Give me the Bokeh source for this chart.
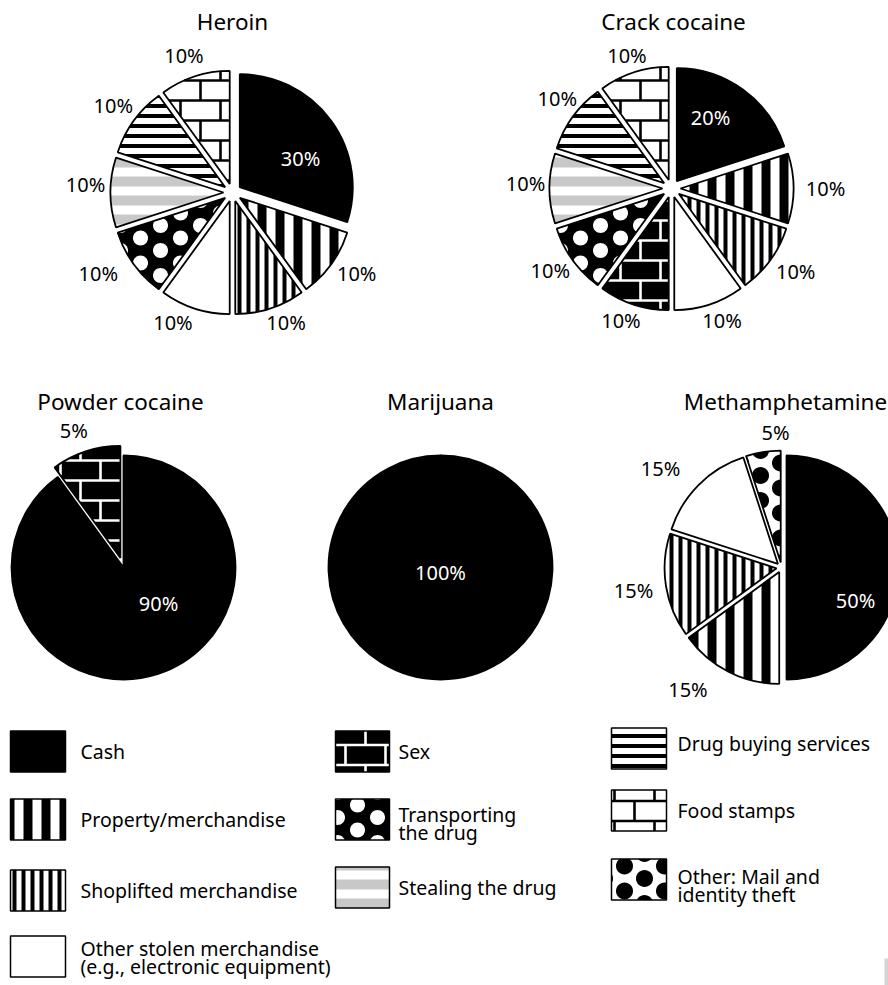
import math
from bokeh.plotting import figure
from bokeh.models import Range1d, ColumnDataSource
from bokeh.core.properties import value
from bokeh.embed import file_html
from bokeh.resources import INLINE

W, H = 888, 985
FONT = "Noto Sans"

# ---------------- data ----------------
CASH = "Cash"
PROP = "Property/merchandise"
SHOP = "Shoplifted merchandise"
OTHER = "Other stolen merchandise"
SEX = "Sex"
TRANS = "Transporting the drug"
STEAL = "Stealing the drug"
BUY = "Drug buying services"
FOOD = "Food stamps"
MAIL = "Other: Mail and identity theft"

pie_titles = ["Heroin", "Crack cocaine", "Powder cocaine", "Marijuana", "Methamphetamine"]

heroin_cats = [CASH, PROP, SHOP, OTHER, TRANS, STEAL, BUY, FOOD]
heroin_vals = [30, 10, 10, 10, 10, 10, 10, 10]
heroin_labels = ["30%", "10%", "10%", "10%", "10%", "10%", "10%", "10%"]

crack_cats = [CASH, PROP, SHOP, OTHER, SEX, TRANS, STEAL, BUY, FOOD]
crack_vals = [20, 10, 10, 10, 10, 10, 10, 10, 10]
crack_labels = ["20%", "10%", "10%", "10%", "10%", "10%", "10%", "10%", "10%"]

powder_cats = [CASH, SEX]
powder_vals = [90, 10]
powder_labels = ["90%", "5%"]

marijuana_cats = [CASH]
marijuana_vals = [100]
marijuana_labels = ["100%"]

meth_cats = [CASH, PROP, SHOP, OTHER, MAIL]
meth_vals = [50, 15, 15, 15, 5]
meth_labels = ["50%", "15%", "15%", "15%", "5%"]

legend_cats = [CASH, PROP, SHOP, OTHER, SEX, TRANS, STEAL, BUY, FOOD, MAIL]
legend_texts = ["Cash", "Property/merchandise", "Shoplifted merchandise",
                "Other stolen merchandise\n(e.g., electronic equipment)",
                "Sex", "Transporting\nthe drug", "Stealing the drug",
                "Drug buying services", "Food stamps", "Other: Mail and\nidentity theft"]

pies = [
    (heroin_cats, heroin_vals, heroin_labels),
    (crack_cats, crack_vals, crack_labels),
    (powder_cats, powder_vals, powder_labels),
    (marijuana_cats, marijuana_vals, marijuana_labels),
    (meth_cats, meth_vals, meth_labels),
]

# ---------------- layout (pixel space, y down) ----------------
pie_layout = [
    dict(cx=232, cy=192, r=113, d=9, inner=(68, -34), tx=232, ty=21),
    dict(cx=671, cy=188, r=113, d=9, inner=(39, -71), tx=673, ty=21),
    dict(cx=123, cy=567, r=112, d=0, inner=(35, 36), tx=120, ty=401),
    dict(cx=440, cy=567, r=112, d=0, inner=(0, 5), tx=440, ty=401),
    dict(cx=781, cy=567, r=112, d=5, inner=(74, 33), tx=785, ty=401),
]
explode_extra = {(2, 1): 10}
label_nudge = {
    (0, 1): (0, -9), (0, 2): (9, -7), (0, 3): (-15, -7), (0, 4): (-10, -9),
    (0, 5): (7, -8), (0, 6): (5, 3), (0, 7): (-4, 0),
    (1, 2): (0, -7), (1, 3): (6, -5), (1, 4): (-6, -5), (1, 5): (3, -8),
    (1, 6): (8, -5), (1, 7): (10, 0), (1, 8): (0, 4),
    (2, 1): (-6, -2),
    (4, 1): (-29, -5), (4, 3): (-17, 5), (4, 4): (15, -2),
}

legend_cols = [(10, 65), (335, 389), (611, 666)]
legend_text_x = [80, 398, 677]
legend_rows = [[751, 819, 890, 956], [751, 819, 887], [748, 810, 879]]
legend_text_dy = [[0, 0, 0, 1], [0, 4, 0], [-5, 0, 6]]
legend_col_of = [0, 0, 0, 0, 1, 1, 1, 2, 2, 2]
legend_row_of = [0, 1, 2, 3, 0, 1, 2, 0, 1, 2]
SW_H = 41


# ---------------- geometry helpers (pixel coords) ----------------
def poly_area(poly):
    a = 0.0
    n = len(poly)
    for i in range(n):
        x1, y1 = poly[i]
        x2, y2 = poly[(i + 1) % n]
        a += x1 * y2 - x2 * y1
    return a / 2


def clip_segment(p0, p1, poly):
    s = 1.0 if poly_area(poly) > 0 else -1.0
    t0, t1 = 0.0, 1.0
    dx, dy = p1[0] - p0[0], p1[1] - p0[1]
    n = len(poly)
    for i in range(n):
        ax, ay = poly[i]
        bx, by = poly[(i + 1) % n]
        ex, ey = bx - ax, by - ay
        if abs(ex) < 1e-12 and abs(ey) < 1e-12:
            continue
        num = s * (ex * (p0[1] - ay) - ey * (p0[0] - ax))
        den = s * (ex * dy - ey * dx)
        if abs(den) < 1e-12:
            if num < 0:
                return None
            continue
        t = -num / den
        if den > 0:
            t0 = max(t0, t)
        else:
            t1 = min(t1, t)
        if t0 >= t1:
            return None
    return (p0[0] + t0 * dx, p0[1] + t0 * dy), (p0[0] + t1 * dx, p0[1] + t1 * dy)


def clip_poly(subject, clip):
    s = 1.0 if poly_area(clip) > 0 else -1.0
    out = list(subject)
    n = len(clip)
    for i in range(n):
        a = clip[i]
        b = clip[(i + 1) % n]
        ex, ey = b[0] - a[0], b[1] - a[1]
        if abs(ex) < 1e-12 and abs(ey) < 1e-12:
            continue
        inp = out
        out = []
        if not inp:
            break

        def side(pt):
            return s * (ex * (pt[1] - a[1]) - ey * (pt[0] - a[0]))

        prev = inp[-1]
        sp = side(prev)
        for cur in inp:
            sc = side(cur)
            if sc >= 0:
                if sp < 0:
                    t = sp / (sp - sc)
                    out.append((prev[0] + t * (cur[0] - prev[0]), prev[1] + t * (cur[1] - prev[1])))
                out.append(cur)
            elif sp >= 0:
                t = sp / (sp - sc)
                out.append((prev[0] + t * (cur[0] - prev[0]), prev[1] + t * (cur[1] - prev[1])))
            prev, sp = cur, sc
    return out


def wedge_poly(cx, cy, r, th1, th2):
    n = max(8, int((th2 - th1) / (2 * math.pi) * 120))
    pts = [(cx, cy)]
    for k in range(n + 1):
        a = th1 + (th2 - th1) * k / n
        pts.append((cx + r * math.sin(a), cy - r * math.cos(a)))
    return pts


def bbox(poly):
    xs = [q[0] for q in poly]
    ys = [q[1] for q in poly]
    return min(xs), max(xs), min(ys), max(ys)


def brick_segments(poly, ox, oy, bw=40.0, bh=20.0):
    x0, x1, y0, y1 = bbox(poly)
    segs = []
    k0 = int(math.floor((y0 - oy) / bh)) - 1
    k1 = int(math.ceil((y1 - oy) / bh)) + 1
    for k in range(k0, k1 + 1):
        y = oy + bh * k
        c = clip_segment((x0 - 2, y), (x1 + 2, y), poly)
        if c:
            segs.append(c)
        shift = bw / 2 if k % 2 else 0.0
        m0 = int(math.floor((x0 - ox - shift) / bw)) - 1
        m1 = int(math.ceil((x1 - ox - shift) / bw)) + 1
        for m in range(m0, m1 + 1):
            x = ox + shift + bw * m
            c = clip_segment((x, y), (x, y + bh), poly)
            if c:
                segs.append(c)
    return segs


def dot_patches(poly, ox, oy, rad, tw=40.0, th=25.0):
    x0, x1, y0, y1 = bbox(poly)
    out = []
    centers = []
    j0 = int(math.floor((y0 - oy) / th)) - 1
    j1 = int(math.ceil((y1 - oy) / th)) + 1
    i0 = int(math.floor((x0 - ox) / tw)) - 1
    i1 = int(math.ceil((x1 - ox) / tw)) + 1
    for j in range(j0, j1 + 1):
        for i in range(i0, i1 + 1):
            centers.append((ox + tw * i, oy + th * j))
            centers.append((ox + tw * i + tw / 2, oy + th * j + th / 2))
    for (cx, cy) in centers:
        if cx + rad < x0 or cx - rad > x1 or cy + rad < y0 or cy - rad > y1:
            continue
        circ = [(cx + rad * math.cos(2 * math.pi * k / 32), cy + rad * math.sin(2 * math.pi * k / 32))
                for k in range(32)]
        cl = clip_poly(circ, poly)
        if len(cl) >= 3:
            out.append(cl)
    return out


# ---------------- styles ----------------
def fill_style(cat):
    if cat in (CASH, SEX, TRANS):
        return dict(fill_color="black")
    if cat == PROP:
        return dict(fill_color="white", hatch_pattern="vertical_line", hatch_color="black",
                    hatch_scale=18, hatch_weight=9)
    if cat == SHOP:
        return dict(fill_color="white", hatch_pattern="vertical_line", hatch_color="black",
                    hatch_scale=9, hatch_weight=4)
    if cat == STEAL:
        return dict(fill_color="white", hatch_pattern="horizontal_line", hatch_color="#c8c8c8",
                    hatch_scale=19, hatch_weight=10)
    if cat == BUY:
        return dict(fill_color="white", hatch_pattern="horizontal_line", hatch_color="black",
                    hatch_scale=10, hatch_weight=4)
    return dict(fill_color="white")


# manual textures: category -> (kind, colour)
manual = {SEX: ("brick", "white"), FOOD: ("brick", "black"),
          TRANS: ("dots", "white"), MAIL: ("dots", "black")}

p = figure(width=W, height=H, x_range=Range1d(0, W), y_range=Range1d(0, H),
           min_border=0, toolbar_location=None, output_backend="svg",
           x_axis_location=None, y_axis_location=None)
p.outline_line_color = None
p.grid.visible = False
p.background_fill_color = "white"
p.border_fill_color = "white"

seg_store = {"white": dict(xs=[], ys=[]), "black": dict(xs=[], ys=[])}
dot_store = {"white": dict(xs=[], ys=[]), "black": dict(xs=[], ys=[])}


def add_texture(cat, poly, ox, oy):
    if cat not in manual:
        return
    kind, col = manual[cat]
    if kind == "brick":
        for (a, b) in brick_segments(poly, ox, oy):
            seg_store[col]["xs"].append([a[0], b[0]])
            seg_store[col]["ys"].append([H - a[1], H - b[1]])
    else:
        rad = 7.5 if cat == TRANS else 8.5
        for pl in dot_patches(poly, ox, oy, rad):
            dot_store[col]["xs"].append([q[0] for q in pl])
            dot_store[col]["ys"].append([H - q[1] for q in pl])


# ---------------- build slices ----------------
slices = {c: dict(x=[], y=[], r=[], s=[], e=[]) for c in legend_cats}
lab = dict(x=[], y=[], text=[], color=[])
for pi, ((cats, vals, labels), L) in enumerate(zip(pies, pie_layout)):
    total = float(sum(vals))
    acc = 0.0
    for si, (c, v, t) in enumerate(zip(cats, vals, labels)):
        th1 = acc / total * 2 * math.pi
        acc += v
        th2 = acc / total * 2 * math.pi
        if th2 - th1 > 2 * math.pi - 1e-3:
            th2 = th1 + 2 * math.pi - 1e-3
        mid = (th1 + th2) / 2
        d = explode_extra.get((pi, si), L["d"])
        ux, uy = math.sin(mid), math.cos(mid)  # uy points up
        pcx = L["cx"] + d * ux
        pcy = L["cy"] - d * uy  # pixel y
        sl = slices[c]
        sl["x"].append(pcx)
        sl["y"].append(H - pcy)
        sl["r"].append(L["r"])
        sl["s"].append(math.pi / 2 - th2)
        sl["e"].append(math.pi / 2 - th1)
        add_texture(c, wedge_poly(pcx, pcy, L["r"], th1, th2), 0.0, 0.0)
        nx, ny = label_nudge.get((pi, si), (0, 0))
        if c == CASH:
            lab["x"].append(L["cx"] + L["inner"][0])
            lab["y"].append(H - (L["cy"] + L["inner"][1]))
            lab["color"].append("white")
        else:
            half_w = 8.0 * len(t)
            ext = abs(ux) * half_w + abs(uy) * 7
            R = L["r"] + d + 8 + ext
            lab["x"].append(L["cx"] + R * ux + nx)
            lab["y"].append(H - (L["cy"] - R * uy + ny))
            lab["color"].append("black")
        lab["text"].append(t)

# fills
for c in legend_cats:
    sl = slices[c]
    if not sl["x"]:
        continue
    p.wedge(x="x", y="y", radius="r", start_angle="s", end_angle="e", direction="anticlock",
            source=ColumnDataSource(sl), line_color=None, **fill_style(c))

# ---------------- legend swatches ----------------
lt = dict(x=[], y=[], text=[])
leg_rects = dict(x=[], y=[], w=[], h=[])
for i, c in enumerate(legend_cats):
    col = legend_col_of[i]
    row = legend_row_of[i]
    x0, x1 = legend_cols[col]
    yc = legend_rows[col][row]
    ytop = yc - SW_H / 2
    p.rect(x=[(x0 + x1) / 2], y=[H - yc], width=[x1 - x0], height=[SW_H],
           line_color=None, **fill_style(c))
    rect_poly = [(x0, ytop), (x1, ytop), (x1, ytop + SW_H), (x0, ytop + SW_H)]
    if c == SEX:
        add_texture(c, rect_poly, x0 + 30, ytop - 6)
    elif c == FOOD:
        add_texture(c, rect_poly, x0 + 3, ytop - 9)
    elif c == TRANS:
        add_texture(c, rect_poly, x0 + 2, ytop - 6.5)
    elif c == MAIL:
        add_texture(c, rect_poly, x0 + 13, ytop + 7)
    leg_rects["x"].append((x0 + x1) / 2)
    leg_rects["y"].append(H - yc)
    leg_rects["w"].append(x1 - x0)
    leg_rects["h"].append(SW_H)
    lt["x"].append(legend_text_x[col])
    lt["y"].append(H - yc - legend_text_dy[col][row])
    lt["text"].append(legend_texts[i])

# manual textures
for col in ("white", "black"):
    if dot_store[col]["xs"]:
        p.patches(xs="xs", ys="ys", source=ColumnDataSource(dot_store[col]),
                  fill_color=col, line_color=None)
    if seg_store[col]["xs"]:
        p.multi_line(xs="xs", ys="ys", source=ColumnDataSource(seg_store[col]),
                     line_color=col, line_width=2.6)

# outlines
allsl = dict(x=[], y=[], r=[], s=[], e=[])
for c in legend_cats:
    for k in allsl:
        allsl[k] += slices[c][k]
p.wedge(x="x", y="y", radius="r", start_angle="s", end_angle="e", direction="anticlock",
        source=ColumnDataSource(allsl), fill_color=None, line_color="black", line_width=1.8)
p.rect(x="x", y="y", width="w", height="h", source=ColumnDataSource(leg_rects),
       fill_color=None, line_color="black", line_width=1.5)

# texts
p.text(x="x", y="y", text="text", text_color="color", source=ColumnDataSource(lab),
       text_font=value(FONT), text_font_size="20px", text_align="center", text_baseline="middle")

p.text(x=[L["tx"] for L in pie_layout], y=[H - L["ty"] for L in pie_layout], text=pie_titles,
       text_font=value(FONT), text_font_size="22.5px", text_align="center", text_baseline="middle",
       text_color="black")

p.text(x="x", y="y", text="text", source=ColumnDataSource(lt), text_font=value(FONT),
       text_font_size="19.5px", text_align="left", text_baseline="middle", text_color="black",
       text_line_height=0.69)

# small scrollbar remnant at the bottom right
p.quad(left=[884], right=[888], bottom=[0], top=[H - 958], fill_color="#d4d4d4", line_color=None)

open("out.html", "w").write(file_html(p, INLINE))
